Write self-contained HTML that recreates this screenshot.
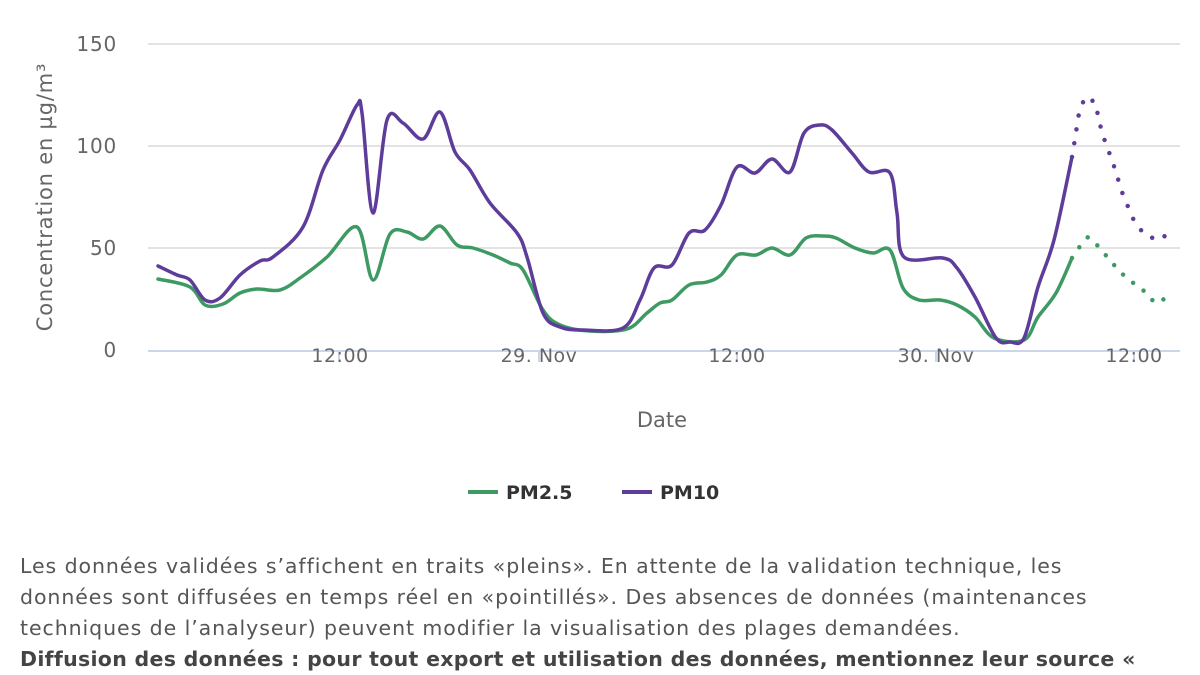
<!DOCTYPE html>
<html><head><meta charset="utf-8"><style>
body{margin:0;width:1200px;height:675px;background:#fff;overflow:hidden;font-family:"DejaVu Sans",sans-serif}
.foot{position:absolute;left:20px;top:551px;font-size:20.5px;line-height:31px;color:#555;width:1180px;white-space:nowrap;letter-spacing:0.93px}
</style></head><body>
<svg width="1200" height="540" style="position:absolute;left:0;top:0" font-family="DejaVu Sans, sans-serif">
<g stroke="#e3e3e3" stroke-width="2">
<line x1="148" y1="44" x2="1180" y2="44"/><line x1="148" y1="146" x2="1180" y2="146"/><line x1="148" y1="248" x2="1180" y2="248"/>
</g>
<line x1="148" y1="351" x2="1180" y2="351" stroke="#ccd6eb" stroke-width="2"/>
<g stroke="#ccd6eb" stroke-width="2"><line x1="339" y1="351" x2="339" y2="362"/><line x1="539" y1="351" x2="539" y2="362"/><line x1="737" y1="351" x2="737" y2="362"/><line x1="936" y1="351" x2="936" y2="362"/><line x1="1134" y1="351" x2="1134" y2="362"/></g>
<g fill="#666" font-size="20" text-anchor="end" letter-spacing="0.8"><text x="117" y="51">150</text><text x="117" y="153">100</text><text x="117" y="255">50</text><text x="117" y="357">0</text></g>
<g fill="#666" font-size="19" text-anchor="middle" letter-spacing="0.5"><text x="340" y="362">12:00</text><text x="539" y="362">29. Nov</text><text x="737" y="362">12:00</text><text x="936" y="362">30. Nov</text><text x="1134" y="362">12:00</text></g>
<text x="662" y="427" fill="#666" font-size="21" text-anchor="middle">Date</text>
<text transform="translate(52,197) rotate(-90)" fill="#666" font-size="21" text-anchor="middle" letter-spacing="0.8">Concentration en µg/m³</text>
<g fill="none" stroke-width="3.5" stroke-linejoin="round" stroke-linecap="round">
<path class="sm" stroke="#3e9a63" data-p="158,279 190,287 205,305 223,304 240,293 257,289 280,290 300,278 327,257 357,227 373,280 390,234 407,232 423,239 440,226 457,245 473,248 493,255 510,263 523,270 543,310 560,325 590,331 627,329 647,313 660,303 672,300 689,285 707,282 721,275 737,255 756,255 772,248 790,255 806,238 823,236 836,238 855,248 873,253 890,250 903,288 919,300 940,300 957,305 975,317 994,338 1024,340 1038,317 1056,293 1072,258"/>
<path class="sm" stroke="#5e3c99" data-p="158,266 177,275 190,280 205,300 220,298 240,275 260,261 273,257 303,227 323,170 340,140 357,105 362,113 373,213 387,120 403,123 423,139 440,112 455,152 470,170 490,203 517,233 527,257 543,313 560,327 583,330 623,328 640,300 654,268 672,265 689,233 705,230 721,205 737,167 755,173 772,159 790,172 804,133 820,125 832,130 852,153 869,172 890,173 897,213 904,257 943,258 957,268 975,297 996,338 1010,342 1024,338 1038,287 1054,240 1072,157"/>
<polyline stroke="#3e9a63" stroke-width="4.5" stroke-dasharray="0 13" points="1072,258 1077,250 1088,237 1098,246 1109,259 1120,272 1132,282 1144,291 1155,303 1169,297"/>
<polyline stroke="#5e3c99" stroke-width="4.5" stroke-dasharray="0 14" points="1072,157 1074,145 1079,113 1085,97 1095,102 1102,133 1113,163 1123,195 1135,223 1146,236 1160,240 1172,230"/>
</g>
<line x1="468" y1="492" x2="498" y2="492" stroke="#3e9a63" stroke-width="4"/>
<text x="506" y="499" fill="#333" font-size="19" font-weight="bold">PM2.5</text>
<line x1="622" y1="492" x2="652" y2="492" stroke="#5e3c99" stroke-width="4"/>
<text x="660" y="499" fill="#333" font-size="19" font-weight="bold">PM10</text>
</svg>
<div class="foot">Les données validées s’affichent en traits «pleins». En attente de la validation technique, les<br>données sont diffusées en temps réel en «pointillés». Des absences de données (maintenances<br>techniques de l’analyseur) peuvent modifier la visualisation des plages demandées.<br><b style="color:#444;letter-spacing:0.3px">Diffusion des données : pour tout export et utilisation des données, mentionnez leur source «</b></div>
<script>
document.querySelectorAll('path.sm').forEach(function(el){
var p=el.getAttribute('data-p').trim().split(/\s+/).map(function(s){return s.split(',').map(Number)});
var d='M'+p[0][0]+','+p[0][1];
for(var i=0;i<p.length-1;i++){
var a=p[i>0?i-1:i],b=p[i],c=p[i+1],e=p[i+2<p.length?i+2:i+1],t=6;
d+=' C'+(b[0]+(c[0]-a[0])/t)+','+(b[1]+(c[1]-a[1])/t)+' '+(c[0]-(e[0]-b[0])/t)+','+(c[1]-(e[1]-b[1])/t)+' '+c[0]+','+c[1];}
el.setAttribute('d',d);});
</script>
</body></html>
